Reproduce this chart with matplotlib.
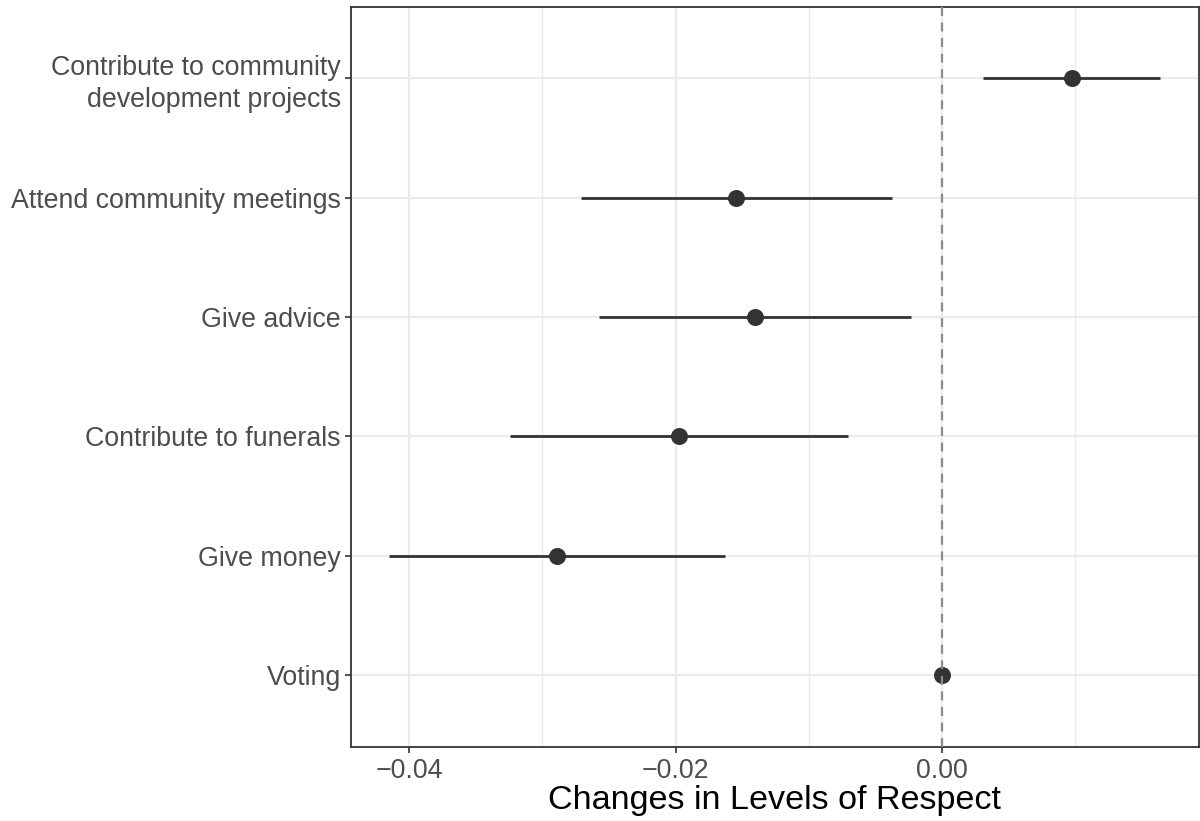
import matplotlib
matplotlib.use("Agg")
import matplotlib.pyplot as plt

# Estimates of change in respect, with 95% interval bounds
activities = [
    "Voting",
    "Give money",
    "Contribute to funerals",
    "Give advice",
    "Attend community meetings",
    "Contribute to community\ndevelopment projects",
]
estimate = [0.0, -0.0289, -0.01977, -0.01405, -0.01543, 0.0098]
lower = [0.0, -0.0415, -0.03245, -0.02576, -0.02713, 0.00312]
upper = [0.0, -0.01628, -0.00708, -0.00233, -0.00375, 0.01642]

x_ticks = [-0.04, -0.02, 0.00]
x_tick_labels = ["\u22120.04", "\u22120.02", "0.00"]
x_minor = [-0.03, -0.01, 0.01]

plt.rcParams["font.family"] = ["Liberation Sans", "DejaVu Sans"]

fig = plt.figure(figsize=(12, 8.21), dpi=100)
ax = fig.add_axes([0.2922, 0.0905, 0.707, 0.9013])

ypos = list(range(len(activities)))

# grid
for v in x_minor:
    ax.axvline(v, color="#EBEBEB", lw=1.0, zorder=0)
for v in x_ticks:
    ax.axvline(v, color="#EBEBEB", lw=1.6, zorder=0)
for y in ypos:
    ax.axhline(y, color="#EBEBEB", lw=1.6, zorder=0)

# intervals and points
for y, lo, hi in zip(ypos, lower, upper):
    if hi > lo:
        ax.plot([lo, hi], [y, y], color="#333333", lw=2.0, solid_capstyle="butt", zorder=2)
ax.scatter(estimate, ypos, s=150, color="#333333", zorder=3, linewidths=0)

ax.axvline(0, color="#8C8C8C", lw=1.6, ls=(0, (4, 3)), zorder=4)

span = max(upper) - min(lower)
ax.set_xlim(min(lower) - 0.05 * span, max(upper) + 0.05 * span)
ax.set_ylim(-0.6, len(activities) - 1 + 0.6)

ax.set_xticks(x_ticks)
ax.set_xticklabels(x_tick_labels)
ax.set_yticks(ypos)
ax.set_yticklabels(activities, linespacing=1.3)
ax.tick_params(axis="both", colors="#333333", length=4, width=1.2,
               labelsize=19.3, labelcolor="#4D4D4D", pad=3)
ax.tick_params(axis="x", pad=4)

for s in ax.spines.values():
    s.set_color("#333333")
    s.set_linewidth(1.3)

ax.set_xlabel("Changes in Levels of Respect", fontsize=24.6, color="black", labelpad=1)

fig.savefig("out.png", dpi=100)
